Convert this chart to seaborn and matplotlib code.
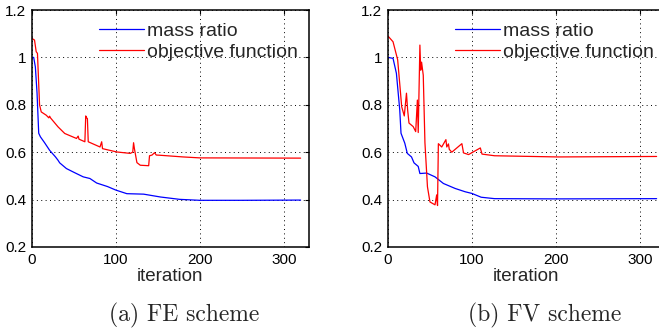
import matplotlib
matplotlib.use("Agg")
import matplotlib.pyplot as plt
import seaborn as sns
import pandas as pd

# ---- data: FE scheme ----
fe_mass_x = [0, 2, 4, 6, 8, 10, 15, 21, 28, 31, 33, 41, 50, 61, 69, 77, 90, 100,
             113, 133, 153, 176, 200, 250, 320]
fe_mass_y = [1.0, 1.0, 0.96, 0.85, 0.68, 0.665, 0.64, 0.608, 0.58, 0.566, 0.555,
             0.531, 0.515, 0.496, 0.489, 0.47, 0.455, 0.44, 0.425, 0.423, 0.411,
             0.401, 0.397, 0.397, 0.398]
fe_obj_x = [0, 3, 5, 6.5, 9, 11, 17, 20, 21, 22, 31, 39, 53, 55, 56, 63, 64, 65,
            66, 67, 81, 83, 84, 101, 117, 120, 121, 122, 125, 129, 139, 140, 143,
            146, 148, 153, 180, 200, 320]
fe_obj_y = [1.08, 1.073, 1.024, 1.017, 0.8, 0.77, 0.756, 0.745, 0.752, 0.745,
            0.707, 0.679, 0.658, 0.668, 0.655, 0.644, 0.753, 0.745, 0.742, 0.644,
            0.622, 0.644, 0.615, 0.601, 0.595, 0.60, 0.64, 0.615, 0.556, 0.545,
            0.543, 0.585, 0.588, 0.598, 0.588, 0.587, 0.58, 0.576, 0.575]

# ---- data: FV scheme ----
fv_mass_x = [0, 6, 10, 14, 15.5, 20, 23, 28, 31, 36, 38, 46, 56, 66, 80, 92, 100,
             111, 127, 200, 320]
fv_mass_y = [1.0, 0.996, 0.933, 0.778, 0.68, 0.638, 0.595, 0.58, 0.555, 0.54,
             0.51, 0.512, 0.496, 0.468, 0.447, 0.433, 0.426, 0.41, 0.404, 0.403,
             0.404]
fv_obj_x = [0, 6, 11.5, 14.3, 16.3, 19.4, 22, 23.4, 25, 30, 33, 35, 36, 38, 39,
            40, 42, 44, 47, 50, 56, 58, 59, 60, 64, 69, 70, 72, 73, 76, 88, 90,
            96, 110, 112, 127, 202, 320]
fv_obj_y = [1.09, 1.066, 0.99, 0.876, 0.792, 0.753, 0.849, 0.778, 0.723, 0.708,
            0.687, 0.82, 0.683, 1.052, 0.946, 0.98, 0.925, 0.64, 0.454, 0.39,
            0.378, 0.42, 0.375, 0.636, 0.622, 0.653, 0.622, 0.635, 0.612, 0.60,
            0.636, 0.597, 0.59, 0.618, 0.592, 0.585, 0.58, 0.582]

x_ticks = [0, 100, 200, 300]
y_ticks = [0.2, 0.4, 0.6, 0.8, 1.0, 1.2]
y_tick_labels = ["0.2", "0.4", "0.6", "0.8", "1", "1.2"]
series_labels = ["mass ratio", "objective function"]
captions = ["(a) FE scheme", "(b) FV scheme"]

sns.set_style("white")
plt.rcParams["font.family"] = ["Liberation Sans", "DejaVu Sans"]

W, H = 659, 335
fig = plt.figure(figsize=(W / 100, H / 100), dpi=100)


def px_axes(left, top, right, bottom):
    return fig.add_axes([left / W, 1 - bottom / H, (right - left) / W, (bottom - top) / H])


panels = [
    (px_axes(32, 10, 309, 247), fe_mass_x, fe_mass_y, fe_obj_x, fe_obj_y, 184),
    (px_axes(388, 10, 665, 247), fv_mass_x, fv_mass_y, fv_obj_x, fv_obj_y, 545),
]

for (ax, mx, my, ox, oy, cap_x), caption in zip(panels, captions):
    dm = pd.DataFrame({"iteration": mx, "value": my})
    do = pd.DataFrame({"iteration": ox, "value": oy})
    sns.lineplot(data=dm, x="iteration", y="value", ax=ax, color=(0, 0, 1),
                 lw=0.9, label=series_labels[0], sort=False, estimator=None)
    sns.lineplot(data=do, x="iteration", y="value", ax=ax, color=(1, 0, 0),
                 lw=0.9, label=series_labels[1], sort=False, estimator=None)
    ax.set_xlim(0, 330)
    ax.set_ylim(0.2, 1.2)
    ax.set_xticks(x_ticks)
    ax.set_yticks(y_ticks)
    ax.set_yticklabels(y_tick_labels)
    ax.grid(True, color="black", linestyle=(0, (1, 3.5)), linewidth=0.7)
    ax.tick_params(direction="in", length=3, width=0.8, top=True, right=True,
                   labelsize=11, pad=4, colors="black")
    for s in ax.spines.values():
        s.set_color("black")
        s.set_linewidth(1.1)
    ax.set_ylabel("")
    ax.set_xlabel("iteration", fontsize=13.5, labelpad=1)
    ax.legend(loc="upper left", bbox_to_anchor=(0.235, 0.955), frameon=False,
              fontsize=14, handlelength=2.3, handletextpad=0.15,
              borderpad=0.1, labelspacing=0.15, borderaxespad=0)
    fig.text(cap_x / W, 1 - 315 / H, caption, family="cmr10", fontsize=17,
             ha="center", va="center")

fig.savefig("out.png", dpi=100)
